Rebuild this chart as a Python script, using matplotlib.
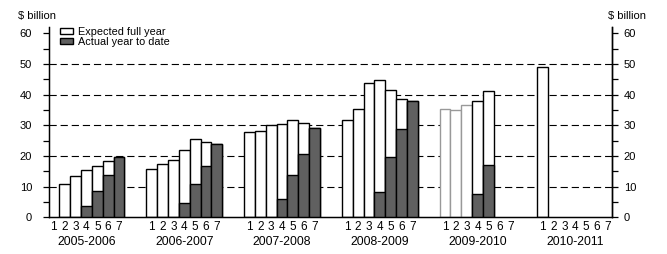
import numpy as np
import matplotlib
matplotlib.use("Agg")
import matplotlib.pyplot as plt
from matplotlib.patches import Patch

plt.rcParams['font.family'] = ['Liberation Sans', 'DejaVu Sans']
plt.rcParams['font.size'] = 8

years = ["2005-2006", "2006-2007", "2007-2008", "2008-2009", "2009-2010", "2010-2011"]
months = ["1", "2", "3", "4", "5", "6", "7"]

# expected full year, by estimate number 1..7 (None = not shown)
expected = [
    [None, 11.0, 13.4, 15.3, 16.9, 18.5, 19.6],
    [15.7, 17.5, 18.8, 21.9, 25.6, 24.7, 23.9],
    [27.7, 28.1, 30.0, 30.6, 31.9, 30.9, 29.1],
    [31.7, 35.2, 43.7, 44.7, 41.7, 38.7, 38.1],
    [35.5, 35.0, 36.8, 37.9, 41.2, None, None],
    [48.9, None, None, None, None, None, None],
]
# actual year to date
actual = [
    [None, None, None, 3.8, 8.7, 13.7, 19.6],
    [None, None, None, 4.8, 11.0, 16.7, 23.9],
    [None, None, None, 6.1, 13.7, 20.5, 29.1],
    [None, None, None, 8.3, 19.6, 28.8, 38.1],
    [None, None, None, 7.7, 17.2, None, None],
    [None, None, None, None, None, None, None],
]
# 2009-2010 estimates 1-3 drawn with grey outline
grey_edge = {(4, 0), (4, 1), (4, 2)}

dark = '#606060'
fig = plt.figure(figsize=(6.67, 2.54), dpi=100)
ax = fig.add_axes([0.0739, 0.1445, 0.8441, 0.7504])

slots = 9
pos, labels = [], []
for g, yr in enumerate(years):
    for b in range(7):
        x = g * slots + b
        pos.append(x)
        labels.append(months[b])
        e = expected[g][b]
        a = actual[g][b]
        ec = '#999999' if (g, b) in grey_edge else 'black'
        if e is not None:
            ax.bar(x, e, width=1.0, color='white', edgecolor=ec, linewidth=1.0, zorder=2)
        if a is not None:
            ax.bar(x, a, width=1.0, color=dark, edgecolor='black', linewidth=1.0, zorder=3)
    ax.text(g * slots + 3, -0.128, yr, transform=ax.get_xaxis_transform(),
            ha='center', va='center', fontsize=8.7)

for v in [10, 20, 30, 40, 50]:
    ax.axhline(v, color='black', linewidth=0.8, linestyle=(0, (6.5, 3.5)), zorder=1)

ax.set_xlim(-0.42, 51.4)
ax.set_ylim(0, 62.2)
ax.set_xticks(pos)
ax.set_xticklabels(labels, fontsize=8.5)
ax.tick_params(axis='x', length=0, pad=2.5)
ax.set_yticks(range(0, 61, 10))
ax.set_yticks(range(5, 60, 10), minor=True)
ax.tick_params(axis='y', which='both', direction='out', length=4.3, width=0.9, pad=8)
ax.spines['top'].set_visible(False)
for s in ['left', 'right', 'bottom']:
    ax.spines[s].set_linewidth(1.0)

ax2 = ax.twinx()
ax2.set_ylim(0, 62.2)
ax2.set_yticks(range(0, 61, 10))
ax2.set_yticks(range(5, 60, 10), minor=True)
ax2.tick_params(axis='y', which='both', direction='out', length=4.3, width=0.9, pad=4)
ax2.spines['top'].set_visible(False)
ax2.spines['right'].set_linewidth(1.0)

fig.text(18 / 667, 1 - 16 / 254, "$ billion", ha='left', va='center', fontsize=8)
fig.text(608 / 667, 1 - 16 / 254, "$ billion", ha='left', va='center', fontsize=8)

handles = [Patch(facecolor='white', edgecolor='black', linewidth=1.0),
           Patch(facecolor=dark, edgecolor='black', linewidth=1.0)]
ax.legend(handles, ["Expected full year", "Actual year to date"],
          loc='upper left', bbox_to_anchor=(60 / 667, 1 - 27 / 254),
          bbox_transform=fig.transFigure, frameon=False, borderpad=0,
          borderaxespad=0, handlelength=1.2, handleheight=0.45,
          handletextpad=0.5, labelspacing=0.0, fontsize=7.8)

fig.savefig("out.png", dpi=100)
